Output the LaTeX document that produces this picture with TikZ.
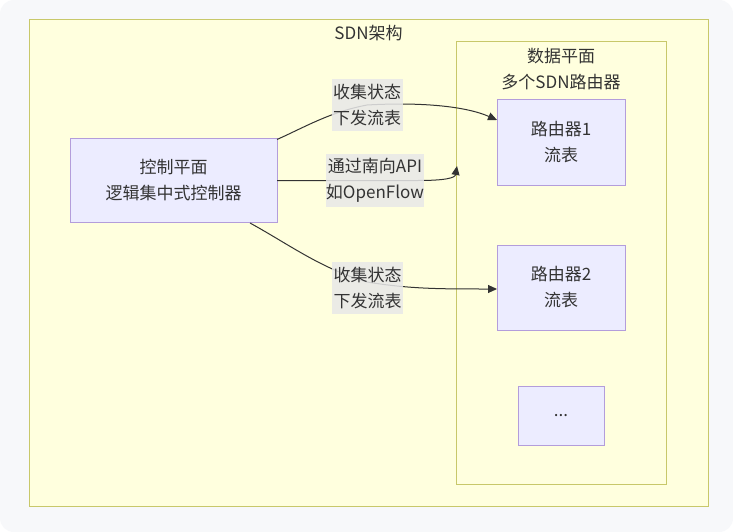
\documentclass[tikz,border=0pt]{standalone}
\usepackage{fontspec}
\setmainfont{Noto Sans CJK SC}
\usetikzlibrary{arrows.meta,calc}
\definecolor{bgc}{HTML}{F7F8FA}
\definecolor{clfill}{HTML}{FFFFDE}
\definecolor{clline}{HTML}{C8C86A}
\definecolor{ndfill}{HTML}{ECECFF}
\definecolor{ndline}{HTML}{B39DDB}
\definecolor{txt}{HTML}{333333}
\definecolor{lblbg}{HTML}{E8E8E8}
\tikzset{
  cluster/.style={draw=clline, fill=clfill, line width=1pt},
  box/.style={draw=ndline, fill=ndfill, line width=1pt, align=center, text=txt, inner sep=0pt},
  lbl/.style={fill=lblbg, fill opacity=0.85, text opacity=1, text=txt, align=center, inner sep=0pt},
  ttl/.style={text=txt, align=center, inner sep=0pt},
  edge/.style={draw=txt, line width=1pt, -{Triangle[length=9pt,width=8pt]}},
}
\begin{document}
\begin{tikzpicture}[x=1pt,y=-1pt, font=\fontsize{17}{26}\selectfont]
\useasboundingbox (0,0) rectangle (733,532);
\fill[white] (0,0) rectangle (733,532);
\fill[bgc, rounded corners=14pt] (0,0) rectangle (733,532);
% clusters
\draw[cluster] (29,20) rectangle (708,506);
\node[ttl] (sdn) at (368.5,33) {SDN架构};
\draw[cluster] (456,42) rectangle (666,484);
\node[ttl] (dp) at (561,69.5) {数据平面\\多个SDN路由器};
% nodes
\node[box, minimum width=207pt, minimum height=84pt] (ctrl) at (173.5,180) {控制平面\\逻辑集中式控制器};
\node[box, minimum width=128pt, minimum height=85pt] (r1) at (561,142.5) {路由器1\\流表};
\node[box, minimum width=128pt, minimum height=85pt] (r2) at (561,287.5) {路由器2\\流表};
\node[box, minimum width=86pt, minimum height=59pt] (rd) at (561,415.5) {...};
% edge anchor coordinates
\coordinate (s1) at (277,139.5);
\coordinate (e1) at (497,120);
\coordinate (s2) at (277,180.5);
\coordinate (e2) at (457,166);
\coordinate (s3) at (250,223);
\coordinate (e3) at (497,289);
\coordinate (m1) at (367,105);
\coordinate (m2) at (375,180.5);
\coordinate (m3) at (367,282);
% edges
\draw[edge] (s1) .. controls (305,127) and (330,112) .. (m1) .. controls (420,102) and (465,106) .. (e1);
\draw[edge] (s2) -- (m2) -- (418,180.5) .. controls (445,180.5) and (455,178) .. (e2);
\draw[edge] (s3) .. controls (290,245) and (320,268) .. (m3) .. controls (410,289) and (440,289) .. (e3);
% edge labels
\node[lbl, minimum width=71pt, minimum height=52pt] (l1) at (m1) {收集状态\\下发流表};
\node[lbl, minimum width=96pt, minimum height=53pt] (l2) at (m2) {通过南向API\\如OpenFlow};
\node[lbl, minimum width=71pt, minimum height=52pt] (l3) at (367.5,288) {收集状态\\下发流表};
\end{tikzpicture}
\end{document}
